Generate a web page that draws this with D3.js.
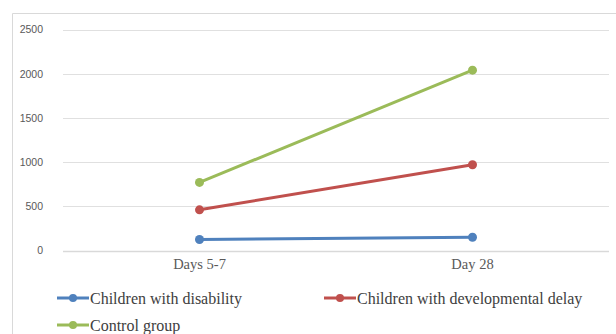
<!DOCTYPE html>
<html>
<head>
<meta charset="utf-8">
<script src="https://cdn.jsdelivr.net/npm/d3@7"></script>
<style>
  html, body { margin: 0; padding: 0; background: #fff; }
  svg { display: block; }
</style>
</head>
<body>
<svg id="chart" width="616" height="334"></svg>
<script>
// Time points on the x axis
const categories = ["Days 5-7", "Day 28"];
// Series values per time point
const disability = [125, 150];
const developmentalDelay = [460, 970];
const controlGroup = [770, 2040];
// Y axis ticks
const yTicks = [0, 500, 1000, 1500, 2000, 2500];

const series = [
  { name: "Children with disability", values: disability, color: "#4F81BD" },
  { name: "Children with developmental delay", values: developmentalDelay, color: "#C0504D" },
  { name: "Control group", values: controlGroup, color: "#9BBB59" }
];

const svg = d3.select("#chart");

// chart area frame (top and left edges visible)
svg.append("path")
  .attr("d", "M12.5,334 V13.5 H616")
  .attr("fill", "none")
  .attr("stroke", "#d9d9d9")
  .attr("stroke-width", 1);

const plot = { left: 63, right: 609, top: 29.5, bottom: 250.5 };

const x = d3.scaleBand().domain(categories).range([plot.left, plot.right]);
const y = d3.scaleLinear().domain([0, 2500]).range([plot.bottom, plot.top]);

// gridlines
svg.append("g")
  .selectAll("line")
  .data(yTicks)
  .join("line")
  .attr("x1", plot.left).attr("x2", plot.right)
  .attr("y1", d => Math.round(y(d)) + 0.5).attr("y2", d => Math.round(y(d)) + 0.5)
  .attr("stroke", d => d === 0 ? "#d9d9d9" : "#e0e0e0")
  .attr("stroke-width", d => d === 0 ? 1.5 : 1);

// y axis labels
const yAxis = d3.axisLeft(y).tickValues(yTicks).tickSize(0).tickPadding(0).tickFormat(d3.format("d"));
const gy = svg.append("g").attr("transform", `translate(43,0)`).call(yAxis);
gy.select(".domain").remove();
gy.selectAll("text")
  .attr("fill", "#595959")
  .style("font-family", "'Liberation Sans', Arial, sans-serif")
  .style("font-size", "10.5px");

// x axis labels
const xAxis = d3.axisBottom(x).tickSize(0).tickPadding(0);
const gx = svg.append("g").attr("transform", `translate(0,259)`).call(xAxis);
gx.select(".domain").remove();
gx.selectAll("text")
  .attr("fill", "#595959")
  .style("font-family", "'Liberation Serif', 'Times New Roman', serif")
  .style("font-size", "14.5px");

const cx = d => x(d) + x.bandwidth() / 2;

const line = d3.line()
  .x((d, i) => cx(categories[i]))
  .y(d => y(d));

const gs = svg.append("g");
series.forEach(s => {
  gs.append("path")
    .datum(s.values)
    .attr("d", line)
    .attr("fill", "none")
    .attr("stroke", s.color)
    .attr("stroke-width", 3)
    .attr("stroke-linecap", "round");
  gs.selectAll(null)
    .data(s.values)
    .join("circle")
    .attr("cx", (d, i) => cx(categories[i]))
    .attr("cy", d => y(d))
    .attr("r", 4.5)
    .attr("fill", s.color);
});

// legend
const legendPos = [
  { x: 57, y: 298 },
  { x: 324, y: 298 },
  { x: 57, y: 325 }
];
const lg = svg.append("g");
series.forEach((s, i) => {
  const p = legendPos[i];
  const g = lg.append("g").attr("transform", `translate(${p.x},${p.y})`);
  g.append("line")
    .attr("x1", 0).attr("x2", 32).attr("y1", 0).attr("y2", 0)
    .attr("stroke", s.color).attr("stroke-width", 3);
  g.append("circle").attr("cx", 16).attr("cy", 0).attr("r", 4).attr("fill", s.color);
  g.append("text")
    .attr("x", 33).attr("y", 0).attr("dy", "0.35em")
    .attr("fill", "#404040")
    .style("font-family", "'Liberation Serif', 'Times New Roman', serif")
    .style("font-size", "16px")
    .text(s.name);
});
</script>
</body>
</html>
